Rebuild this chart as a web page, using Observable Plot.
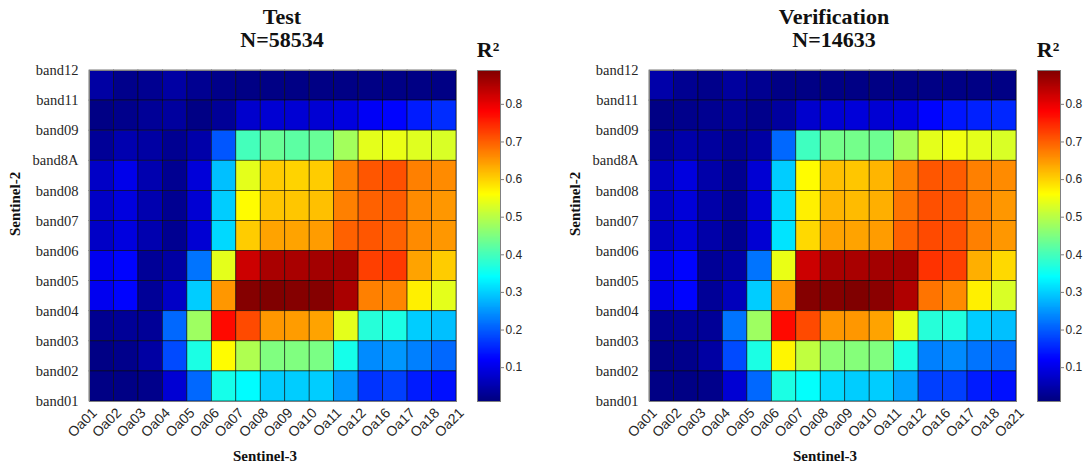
<!DOCTYPE html>
<html><head><meta charset="utf-8">
<script src="https://cdn.jsdelivr.net/npm/d3@7"></script>
<script src="https://cdn.jsdelivr.net/npm/@observablehq/plot@0.6"></script>
<style>
body{margin:0;background:#fff;}
#chart{position:relative;width:1085px;height:470px;overflow:hidden;background:#fff;}
.ttl{position:absolute;font-family:"Liberation Serif","Times New Roman",serif;font-weight:bold;font-size:22px;line-height:23px;text-align:center;color:#111;white-space:nowrap;}
</style></head><body><div id="chart"></div>
<script>
// Sentinel-3 OLCI bands (column vertices)
const xLabels = ["Oa01","Oa02","Oa03","Oa04","Oa05","Oa06","Oa07","Oa08","Oa09","Oa10","Oa11","Oa12","Oa16","Oa17","Oa18","Oa21"];
// Sentinel-2 bands (row vertices, bottom to top)
const yLabels = ["band01","band02","band03","band04","band05","band06","band07","band08","band8A","band09","band11","band12"];
// R² cells, rows from top (band11) to bottom (band01), 15 columns each
const testR2 = [
  [0.041,0.020,0.025,0.041,0.025,0.018,0.015,0.015,0.015,0.015,0.015,0.015,0.015,0.015,0.015],
  [0.015,0.020,0.030,0.036,0.015,0.030,0.077,0.082,0.082,0.082,0.092,0.112,0.123,0.143,0.158],
  [0.030,0.051,0.041,0.025,0.046,0.194,0.399,0.430,0.419,0.430,0.481,0.537,0.542,0.532,0.527],
  [0.071,0.102,0.051,0.025,0.087,0.286,0.537,0.604,0.598,0.604,0.670,0.706,0.711,0.670,0.660],
  [0.071,0.092,0.051,0.025,0.082,0.297,0.563,0.609,0.609,0.614,0.670,0.696,0.701,0.660,0.650],
  [0.071,0.092,0.051,0.025,0.082,0.307,0.604,0.639,0.639,0.645,0.696,0.706,0.696,0.660,0.650],
  [0.107,0.123,0.030,0.041,0.220,0.537,0.824,0.854,0.854,0.859,0.859,0.726,0.731,0.639,0.604],
  [0.107,0.123,0.030,0.071,0.297,0.650,0.885,0.890,0.885,0.885,0.854,0.670,0.665,0.573,0.537],
  [0.025,0.030,0.030,0.210,0.476,0.772,0.716,0.650,0.645,0.639,0.537,0.373,0.363,0.297,0.286],
  [0.015,0.020,0.041,0.184,0.363,0.563,0.491,0.450,0.450,0.445,0.358,0.240,0.250,0.230,0.210],
  [0.015,0.015,0.020,0.082,0.210,0.358,0.338,0.297,0.297,0.297,0.250,0.164,0.174,0.143,0.133]
];
const verificationR2 = [
  [0.046,0.025,0.020,0.036,0.025,0.015,0.015,0.015,0.015,0.015,0.015,0.015,0.015,0.015,0.015],
  [0.015,0.020,0.025,0.030,0.020,0.036,0.077,0.082,0.087,0.082,0.092,0.123,0.138,0.148,0.153],
  [0.030,0.046,0.036,0.025,0.041,0.210,0.394,0.440,0.440,0.435,0.481,0.537,0.547,0.537,0.527],
  [0.066,0.092,0.046,0.025,0.082,0.297,0.563,0.614,0.609,0.624,0.670,0.706,0.701,0.670,0.660],
  [0.066,0.087,0.046,0.025,0.082,0.307,0.573,0.624,0.619,0.629,0.680,0.711,0.706,0.670,0.650],
  [0.066,0.087,0.046,0.025,0.082,0.317,0.593,0.639,0.639,0.645,0.696,0.716,0.711,0.670,0.650],
  [0.102,0.123,0.030,0.041,0.220,0.542,0.824,0.854,0.854,0.859,0.859,0.737,0.726,0.629,0.593],
  [0.102,0.123,0.030,0.061,0.297,0.650,0.885,0.885,0.890,0.880,0.849,0.680,0.660,0.573,0.527],
  [0.025,0.030,0.030,0.220,0.476,0.772,0.716,0.650,0.650,0.639,0.542,0.373,0.368,0.297,0.286],
  [0.015,0.020,0.041,0.184,0.363,0.568,0.506,0.460,0.455,0.450,0.363,0.230,0.240,0.220,0.210],
  [0.015,0.015,0.020,0.082,0.210,0.363,0.343,0.307,0.297,0.297,0.261,0.174,0.174,0.143,0.133]
];
const panelTitles = ["Test","Verification"];
const panelCounts = ["N=58534","N=14633"];
const colorDomain = [0.01, 0.89];
const colorTicks = [0.1,0.2,0.3,0.4,0.5,0.6,0.7,0.8];

function jet(t){
  const c = v => Math.max(0, Math.min(1, v));
  const r = c(Math.min(4*t-1.5, -4*t+4.5));
  const g = c(Math.min(4*t-0.5, -4*t+3.5));
  const b = c(Math.min(4*t+0.5, -4*t+2.5));
  return `rgb(${Math.round(r*255)},${Math.round(g*255)},${Math.round(b*255)})`;
}
const colorOpts = {type:"linear", domain: colorDomain, interpolate: jet, clamp: true};
const serif = '"Liberation Serif","Times New Roman",serif';
const sans = '"Liberation Sans",Arial,sans-serif';

const chart = document.getElementById("chart");
const nRows = yLabels.length - 1;

function place(el, left, top){ el.style.position="absolute"; el.style.left=left+"px"; el.style.top=top+"px"; chart.appendChild(el); }

[testR2, verificationR2].forEach((values, p) => {
  const left = p === 0 ? 0 : 560;
  const cells = [];
  values.forEach((row, r) => row.forEach((v, c) => {
    const y1 = nRows - 1 - r;
    cells.push({x1: c, x2: c + 1, y1, y2: y1 + 1, v});
  }));
  const main = Plot.plot({
    width: 470, height: 470,
    marginLeft: 89, marginRight: 14, marginTop: 70, marginBottom: 69,
    style: {background: "transparent", overflow: "visible"},
    x: {domain: [0, xLabels.length - 1]},
    y: {domain: [0, nRows]},
    color: colorOpts,
    marks: [
      Plot.rect(cells, {x1: "x1", x2: "x2", y1: "y1", y2: "y2", fill: "v", stroke: "#000", strokeWidth: 0.7, strokeOpacity: 0.75}),
      Plot.frame({stroke: "#808080", strokeWidth: 1}),
      Plot.axisX({ticks: d3.range(xLabels.length), tickFormat: i => xLabels[i], tickRotate: -45, tickSize: 0, tickPadding: 9, dx: 5, fontSize: 14, fontFamily: sans, fill: "#262626", label: null}),
      Plot.axisY({ticks: d3.range(yLabels.length), tickFormat: i => yLabels[i], tickSize: 0, tickPadding: 11, fontSize: 14.5, fontFamily: serif, fill: "#262626", label: null}),
      Plot.text(["Sentinel-3"], {frameAnchor: "bottom", dy: 59, dx: -8, fontWeight: "bold", fontSize: 15, fontFamily: serif, fill: "#111"}),
      Plot.text(["Sentinel-2"], {frameAnchor: "left", dx: -74, rotate: -90, fontWeight: "bold", fontSize: 15, fontFamily: serif, fill: "#111"})
    ]
  });
  place(main, left, 0);

  const step = 0.0025;
  const ramp = d3.range(colorDomain[0], colorDomain[1], step);
  const cbar = Plot.plot({
    width: 70, height: 470,
    marginLeft: 7, marginRight: 40, marginTop: 70, marginBottom: 69,
    style: {background: "transparent", overflow: "visible"},
    y: {domain: colorDomain},
    color: colorOpts,
    marks: [
      Plot.rect(ramp, {y1: d => d, y2: d => Math.min(d + step, colorDomain[1]), fill: d => d, stroke: d => d, strokeWidth: 0.6, shapeRendering: "crispEdges"}),
      Plot.frame({stroke: "#808080", strokeWidth: 1}),
      Plot.axisY({anchor: "right", ticks: colorTicks, tickFormat: d3.format(".1f"), tickSize: 3, tickPadding: 2, fontSize: 12, fontFamily: sans, fill: "#262626", stroke: "#808080", label: null})
    ]
  });
  place(cbar, left + 470, 0);

  const t = document.createElement("div");
  t.className = "ttl";
  t.innerHTML = panelTitles[p] + "<br>" + panelCounts[p];
  t.style.width = "300px";
  place(t, left + (p === 0 ? 282 : 274) - 150, 5);

  const r2 = document.createElement("div");
  r2.className = "ttl";
  r2.textContent = "R²";
  r2.style.width = "60px";
  place(r2, left + 488 - 30, 38);
});
</script>
</body></html>
